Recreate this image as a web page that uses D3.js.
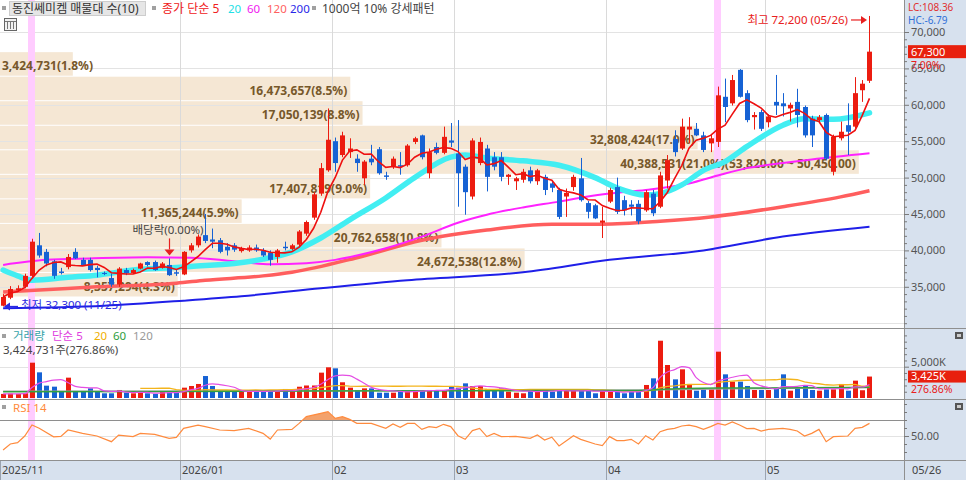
<!DOCTYPE html>
<html><head><meta charset="utf-8">
<script src="https://cdn.jsdelivr.net/npm/d3@7"></script>
<style>
html,body{margin:0;padding:0;background:#fff;}
svg{display:block;}
text{font-family:"Noto Sans","Noto Sans CJK KR",sans-serif;}
</style></head><body>
<svg id="chart" width="966" height="480"></svg>
<script>
// ---------------- DATA ----------------
const opens = [32400,33500,34500,35000,36500,40700,39800,38500,37100,37700,
39800,38700,38700,37600,36900,36200,35300,37300,36900,37500,
38400,38400,37600,38000,37000,36700,40000,40700,42100,41500,
41400,40500,40700,39900,40000,40400,40000,39700,39100,40500,
40200,40800,42300,44500,47800,51000,55000,53100,53500,52600,
49900,52600,53900,50300,51500,51700,51700,54900,55800,50600,
54200,53400,55100,53300,51500,47400,52000,54000,52800,52800,
50100,49500,49700,51000,49500,50100,49200,48300,47400,48700,
49900,46500,46200,43800,46700,48700,46900,46300,46400,45500,
47800,46000,49600,55300,54000,56600,56700,55800,54700,54900,
61100,60200,64800,61600,58300,59000,57600,60400,60200,59500,
60400,59700,58100,57900,58600,50800,55400,57200,57000,62000,
63300];
const highs = [34000,35100,35200,36800,41600,42400,40200,38700,37600,39500,
40300,39000,39000,37900,37100,36800,37700,37600,37500,38300,
38500,38600,38400,38900,37400,39900,41000,42200,45000,43000,
41700,41000,41000,40500,40700,40800,40300,40000,40200,41200,
40900,42800,44100,48000,52000,59500,55500,56300,55400,53200,
52400,54500,54200,50800,52900,53500,54600,55600,55900,54000,
54800,57000,57500,57900,51800,55400,55500,54500,53500,53500,
50500,50100,51200,51500,51200,50400,49600,48600,48500,50400,
52700,46800,46400,46000,48600,50000,47500,46900,46900,48300,
48300,50800,53100,56500,58100,58300,57500,56300,55900,62500,
63600,64100,64900,62000,59000,59300,58700,64100,61600,60300,
62200,59900,58500,58600,58800,55900,57700,60200,63800,63400,
72200];
const lows = [32300,33300,34300,34800,36300,39000,37800,36100,36700,37400,
38800,37900,37100,36300,36600,35000,35000,36600,36800,37400,
37800,37200,37500,36500,36500,36600,39700,40400,41000,40300,
39600,39300,39800,39700,39800,39800,39100,37900,38300,40000,
40000,40600,42000,44200,47500,50800,50800,52800,52700,50800,
49000,51700,50400,49700,51200,50400,51500,54600,52500,49900,
53200,53200,54200,46000,44900,47000,51700,48100,51000,49500,
49000,48300,49300,49200,49000,47600,48000,44300,44600,48200,
46700,44400,44300,41700,46500,45000,44800,44800,43600,45300,
44700,45800,48500,52900,53800,54700,55700,53500,53500,54200,
57600,59900,61000,57600,56600,56400,56900,58600,58400,57700,
56900,55500,54200,57500,52400,50300,55100,53100,56800,60400,
63000];
const closes = [33600,34700,34800,36500,41200,39300,38200,36500,36900,39100,
38900,38000,37300,37300,36800,35300,37500,36900,37300,38200,
38000,37300,38200,36600,36800,39800,40700,41900,41300,41200,
39800,40000,40100,40300,40400,40000,39300,38700,40000,40300,
40700,42600,43900,47700,51300,55200,52000,55800,54000,52000,
52200,52100,50600,50100,52600,51500,54400,55400,52800,53500,
53400,55600,54800,50600,48000,55100,54900,50100,51500,50100,
50400,49900,50800,49500,51000,48300,48600,44600,47900,50100,
46900,45300,44400,44100,48300,45300,45500,46000,44000,48000,
45100,50300,52400,53500,57000,57000,55800,53800,55400,61300,
59700,63400,61100,57900,58600,56700,58400,59900,59800,60000,
58600,55800,55800,58300,52600,55600,56300,56300,61600,62900,
67300];
// volume in thousand shares
const volumesK = [650,700,650,750,5640,4100,1970,1810,1120,3250,
1120,1120,1540,1120,750,750,1280,850,750,850,
750,640,1010,1010,850,1650,1920,2240,3510,1920,
1120,1010,1010,1010,1120,1120,1010,1120,1120,1440,
1120,1800,2000,2000,4050,4900,4740,2510,1650,1280,
1540,1540,850,850,850,1170,1120,1170,1170,1280,
1280,1170,1920,1650,2340,1900,1900,1380,1380,1540,
1010,850,750,1280,1280,1170,1010,1170,1170,1170,
1170,1170,750,1170,1010,1010,750,1010,1170,2080,
3140,9150,5270,2980,4580,2240,1170,1380,1380,7400,
3780,2610,2610,1920,1280,1280,1280,1540,3780,1170,
1540,2080,1280,1170,1380,1380,2240,1170,2770,1240,
3425];

// long moving averages (need history before the window)
const ma20Idx = [0,2,4,9,13,18,23,26,32,36,40,44,48,53,57,62,64,67,72,77,82,85,89,91,94,97,100,103,108,111,115,120];
const ma20Val = [37300,36500,35900,36300,36600,37300,37600,37800,38200,38800,39800,41700,44200,47200,50000,52800,53100,52700,52300,51700,50000,48600,47600,47800,49000,51000,52200,54250,57200,58100,58000,58900];
const ma60Idx = [0,6,12,20,26,32,37,42,46,49,53,58,63,67,72,77,81,84,89,95,99,103,108,112,120];
const ma60Val = [38000,38700,38900,39050,39000,38500,38100,38250,38700,39300,40300,41900,43800,44900,45900,46700,47400,47800,48300,49200,50300,51300,52000,52500,53350];
const ma120Idx = [0,5,13,24,28,36,40,49,58,67,76,83,91,98,108,116,120];
const ma120Val = [34300,34550,35000,35500,35900,36500,37000,39000,41400,42800,43600,43600,44000,44600,46000,47350,48200];
const ma200Idx = [0,14,25,33,44,56,72,84,97,108,120];
const ma200Val = [32050,32400,33100,33700,34800,35900,37000,38700,40000,41900,43250];

const volMa60Idx = [0,25,40,66,88,91,92,94,99,110,120];
const volMa60Val = [1010,1050,1100,1170,1200,1350,1430,1500,1600,1620,1700];
const volMa120Idx = [0,40,66,91,100,120];
const volMa120Val = [1100,1150,1200,1300,1450,1650];

const rsiIdx = [0,1,2,3,4,5,7,8,9,11,13,15,16,18,19,21,23,24,25,27,28,30,32,34,36,37,38,40,41,42,44,45,46,47,48,49,51,53,54,55,56,57,58,59,60,61,62,63,64,65,66,67,68,69,71,72,73,74,75,76,77,79,80,82,83,84,85,86,87,88,89,90,91,92,93,94,95,96,97,98,99,100,101,102,103,104,105,106,108,109,110,111,112,113,114,115,117,118,119,120];
const rsiVal = [32.5,40,41.7,50,63.7,59.6,49,49.5,57.5,53.3,50,42.9,51.2,49.2,53.3,52,47,48.3,59.6,63.7,61.7,57.5,56.7,59.6,53.3,46.2,57.5,58.3,65.8,74.2,78.3,80.4,72.1,74.2,70.8,65.8,65.8,59.6,65,60.8,65.8,65.8,58.3,61.7,60.5,64.6,61.7,50.4,45.8,56.7,59.6,49.2,53.3,49.2,49.5,48.3,47,51.2,45,48.5,37.5,50.4,45.8,40,37.9,49.2,44.2,44.2,45.8,40,50.4,45,55.4,58.3,59.6,62.5,63.7,61.7,58.3,61.7,65.8,63.7,67.5,63.7,59.2,59.6,56.2,58.3,59.6,58.3,56.2,50,53.3,58.3,42.9,49.2,50,59.6,60.8,65.8];

// volume profile (매물대) : 10 price bands
const profileEdges = [33600,36970,40340,43710,47080,50450,53820,57190,60560,63930,67300];
const profileVolumes = [8357294,24672538,20762658,11365244,17407819,40388531,32808424,17050139,16473657,3424731];

// ticks / labels
const priceTicks = [35000,40000,45000,50000,55000,60000,65000,70000];
const monthIdx = [0,25,46,63,84,106];
const monthLabels = ["2025/11","2026/01","02","03","04","05"];
const lastDateLabel = "05/26";
const highlightIdx = [4,99];
const exDivIdx = 23;
const highDate = "05/26", lowDate = "11/25";
const lastVolume = 3424731, lastVolumeRatio = 276.86;
const lcValue = 108.36, hcValue = -6.79;

// ---------------- LAYOUT ----------------
const W = 966, H = 480, PW = 904;
const svg = d3.select("#chart");
const n = closes.length;
const x = d3.scaleBand().domain(d3.range(n)).range([-0.51, 873.1]);
const step = x.step();
const cx = i => Math.round(x(i) + step / 2);
const yP = d3.scaleLinear().domain([30000, 70000]).range([323.2, 32]);
const yV = d3.scaleLinear().domain([0, 5000]).range([398, 366.7]);
const yR = d3.scaleLinear().domain([50, 70]).range([436, 420]);

const RED = "#ec1c10", BLUE = "#1662d4";
const colorOf = i => closes[i] >= opens[i] ? RED : BLUE;
const fmt = d3.format(",");
const FONT = '"Noto Sans","Noto Sans CJK KR",sans-serif';

const movingAvg = (arr, k) => arr.map((_, i) => d3.mean(arr.slice(Math.max(0, i - k + 1), i + 1)));
const ma5 = movingAvg(closes, 5);
const vma5 = movingAvg(volumesK, 5);
const vma20 = volumesK.map((_, i) => i >= 19 ? d3.mean(volumesK.slice(i - 19, i + 1)) : null);

svg.append("rect").attr("width", W).attr("height", H).attr("fill", "#fff");

const defs = svg.append("defs");
defs.append("clipPath").attr("id", "cMain").append("rect").attr("x", 0).attr("y", 0).attr("width", PW).attr("height", 328);
defs.append("clipPath").attr("id", "cVol").append("rect").attr("x", 0).attr("y", 329).attr("width", PW).attr("height", 70);
defs.append("clipPath").attr("id", "cRsi").append("rect").attr("x", 0).attr("y", 400).attr("width", PW).attr("height", 60);
defs.append("clipPath").attr("id", "cAbove").append("rect").attr("x", 0).attr("y", 400).attr("width", PW).attr("height", yR(70) - 400);

// ---------------- BACKGROUND LAYERS ----------------
const profTotal = d3.sum(profileVolumes);
const xProf = d3.scaleLinear().domain([0, d3.max(profileVolumes)]).range([0, PW * 0.95]);
svg.append("g").attr("clip-path", "url(#cMain)").selectAll("rect").data(profileVolumes).join("rect")
  .attr("x", 0).attr("y", (v, k) => yP(profileEdges[k + 1]) + 0.5)
  .attr("width", v => xProf(v))
  .attr("height", (v, k) => yP(profileEdges[k]) - yP(profileEdges[k + 1]) - 1)
  .attr("fill", "#f5e7d4");

// gridlines
const gG = svg.append("g");
gG.selectAll("line.h").data(d3.range(30000, 70001, 5000)).join("line").attr("class", "h")
  .attr("x1", 0).attr("x2", PW).attr("y1", d => Math.round(yP(d)) + 0.5).attr("y2", d => Math.round(yP(d)) + 0.5)
  .attr("stroke", "#e3e3e3");
gG.selectAll("line.v").data(monthIdx.slice(1)).join("line").attr("class", "v")
  .attr("x1", i => Math.round(x(i)) + 0.5).attr("x2", i => Math.round(x(i)) + 0.5)
  .attr("y1", 0).attr("y2", 460).attr("stroke", "#dadada");
gG.append("line").attr("x1", 0).attr("x2", PW).attr("y1", Math.round(yV(5000)) + 0.5).attr("y2", Math.round(yV(5000)) + 0.5).attr("stroke", "#e3e3e3");
gG.append("line").attr("x1", 0).attr("x2", PW).attr("y1", yR(50) + 0.5).attr("y2", yR(50) + 0.5).attr("stroke", "#e3e3e3");

// highlight columns
svg.append("g").selectAll("rect").data(highlightIdx).join("rect")
  .attr("x", i => Math.round(x(i))).attr("y", 0).attr("width", Math.round(step)).attr("height", 460)
  .attr("fill", "#ffccff");

// ---------------- MAIN PANEL ----------------
const gM = svg.append("g").attr("clip-path", "url(#cMain)");
// profile labels
const gPL = gM.append("g").attr("font-size", 12).attr("font-weight", "bold").attr("fill", "#77582a");
const maxK = profileVolumes.indexOf(d3.max(profileVolumes));
profileVolumes.forEach((v, k) => {
  let label = fmt(v) + "(" + (v / profTotal * 100).toFixed(1) + "%)";
  if (k === maxK) label += "(" + d3.format(",.2f")(profileEdges[k + 1]) + " ~ " + d3.format(",.2f")(profileEdges[k]) + ")";
  const t = gPL.append("text").attr("y", (yP(profileEdges[k]) + yP(profileEdges[k + 1])) / 2 + 2).attr("dy", "0.35em")
    .attr("font-family", FONT).text(label);
  const w = t.node().getComputedTextLength();
  const right = xProf(v) - 3;
  t.attr("x", Math.max(2, right - w));
});

// moving averages
const sparseLine = (idx, vals, ys) => d3.line().x((d, k) => x(idx[k]) + step / 2).y(d => ys(d)).curve(d3.curveMonotoneX)(vals);
gM.append("path").attr("d", sparseLine(ma200Idx, ma200Val, yP)).attr("fill", "none").attr("stroke", "#1f1fe8").attr("stroke-width", 2);
gM.append("path").attr("d", sparseLine(ma120Idx, ma120Val, yP)).attr("fill", "none").attr("stroke", "#ff5e5e").attr("stroke-width", 3.5);
gM.append("path").attr("d", sparseLine(ma60Idx, ma60Val, yP)).attr("fill", "none").attr("stroke", "#ff22ff").attr("stroke-width", 2);
gM.append("path").attr("d", sparseLine(ma20Idx, ma20Val, yP)).attr("fill", "none").attr("stroke", "#42eef2").attr("stroke-width", 5.5).attr("stroke-linecap", "round");

// candles
const gC = gM.append("g");
gC.selectAll("line").data(d3.range(n)).join("line")
  .attr("x1", i => cx(i) + 0.5).attr("x2", i => cx(i) + 0.5)
  .attr("y1", i => yP(highs[i])).attr("y2", i => yP(lows[i]))
  .attr("stroke", colorOf).attr("stroke-width", 1);
gC.selectAll("rect").data(d3.range(n)).join("rect")
  .attr("x", i => cx(i) - 2).attr("width", 5)
  .attr("y", i => yP(Math.max(opens[i], closes[i])))
  .attr("height", i => Math.max(1, yP(Math.min(opens[i], closes[i])) - yP(Math.max(opens[i], closes[i]))))
  .attr("fill", colorOf);

gM.append("path").attr("d", d3.line().x((d, i) => x(i) + step / 2).y(d => yP(d))(ma5))
  .attr("fill", "none").attr("stroke", "#ee1010").attr("stroke-width", 1.6);

// annotations
const hiI = highs.indexOf(d3.max(highs)), loI = lows.indexOf(d3.min(lows));
const gA = svg.append("g").attr("font-size", 11.5).attr("font-family", FONT);
const hy = yP(highs[hiI]) + 4;
gA.append("line").attr("x1", cx(hiI) - 18).attr("x2", cx(hiI) - 6).attr("y1", hy).attr("y2", hy).attr("stroke", "#e82020").attr("stroke-width", 1.2);
gA.append("path").attr("d", `M${cx(hiI) - 2},${hy} l-6,-4 l0,8 z`).attr("fill", "#e82020");
gA.append("text").attr("x", cx(hiI) - 21).attr("y", hy).attr("dy", "0.35em").attr("text-anchor", "end").attr("fill", "#e82020")
  .text("최고 " + fmt(highs[hiI]) + " (" + highDate + ")");
const ly = yP(lows[loI]);
gA.append("line").attr("x1", cx(loI) + 6).attr("x2", cx(loI) + 15).attr("y1", ly).attr("y2", ly).attr("stroke", "#2a2ae0").attr("stroke-width", 1.2);
gA.append("path").attr("d", `M${cx(loI) + 1},${ly} l6,-4 l0,8 z`).attr("fill", "#2a2ae0");
gA.append("text").attr("x", cx(loI) + 18).attr("y", ly - 1).attr("dy", "0.35em").attr("fill", "#2a2ae0")
  .text("최저 " + fmt(lows[loI]) + " (" + lowDate + ")");
const ey = yP(highs[exDivIdx]) - 3;
gA.append("line").attr("x1", cx(exDivIdx) + 0.5).attr("x2", cx(exDivIdx) + 0.5).attr("y1", ey - 17).attr("y2", ey - 6).attr("stroke", "#e82020").attr("stroke-width", 1.2);
gA.append("path").attr("d", `M${cx(exDivIdx) + 0.5},${ey} l-5,-6 l10,0 z`).attr("fill", "#e82020");
gA.append("text").attr("x", cx(exDivIdx) - 1).attr("y", ey - 25).attr("dy", "0.35em").attr("text-anchor", "middle").attr("fill", "#444")
  .text("배당락(0.00%)");

// ---------------- VOLUME PANEL ----------------
const gV = svg.append("g").attr("clip-path", "url(#cVol)");
gV.selectAll("rect").data(d3.range(n)).join("rect")
  .attr("x", i => cx(i) - 2).attr("width", 5)
  .attr("y", i => yV(volumesK[i])).attr("height", i => yV(0) - yV(volumesK[i]))
  .attr("fill", colorOf);
gV.append("path").attr("d", sparseLine(volMa120Idx, volMa120Val, yV)).attr("fill", "none").attr("stroke", "#a0a0a0").attr("stroke-width", 1.2);
gV.append("path").attr("d", d3.line().defined(d => d != null).x((d, i) => x(i) + step / 2).y(d => yV(d))(vma20))
  .attr("fill", "none").attr("stroke", "#f3b41c").attr("stroke-width", 1.3);
gV.append("path").attr("d", sparseLine(volMa60Idx, volMa60Val, yV)).attr("fill", "none").attr("stroke", "#34a040").attr("stroke-width", 1.5);
gV.append("path").attr("d", d3.line().x((d, i) => x(i) + step / 2).y(d => yV(d)).curve(d3.curveMonotoneX)(vma5))
  .attr("fill", "none").attr("stroke", "#e44ee4").attr("stroke-width", 1.2);

// ---------------- RSI PANEL ----------------
const gR = svg.append("g").attr("clip-path", "url(#cRsi)");
const rsiPts = rsiIdx.map((i, k) => [i, rsiVal[k]]);
gR.append("path").attr("clip-path", "url(#cAbove)")
  .attr("d", d3.area().x(d => x(d[0]) + step / 2).y0(yR(70)).y1(d => yR(d[1]))(rsiPts))
  .attr("fill", "#f3a26c");
gR.append("line").attr("x1", 0).attr("x2", PW).attr("y1", yR(70) + 0.5).attr("y2", yR(70) + 0.5).attr("stroke", "#8e8e8e");
gR.append("path").attr("d", d3.line().x(d => x(d[0]) + step / 2).y(d => yR(d[1]))(rsiPts))
  .attr("fill", "none").attr("stroke", "#ff8b3e").attr("stroke-width", 1.2);

// ---------------- AXES / FRAME ----------------
svg.append("rect").attr("x", PW).attr("y", 0).attr("width", W - PW).attr("height", H).attr("fill", "#d7e1ee");
svg.append("rect").attr("x", 0).attr("y", 461).attr("width", PW).attr("height", 19).attr("fill", "#d7e1ee");
[328.5, 399.5, 460.5].forEach(yy => svg.append("line").attr("x1", 0).attr("x2", W).attr("y1", yy).attr("y2", yy).attr("stroke", "#8f8f8f"));
svg.append("line").attr("x1", PW + 0.5).attr("x2", PW + 0.5).attr("y1", 0).attr("y2", H).attr("stroke", "#8f8f8f");

function styleAxis(g) {
  g.select(".domain").remove();
  g.attr("font-family", FONT).attr("font-size", 11);
  g.selectAll("line").attr("stroke", "#7a7a7a");
  g.selectAll("text").attr("fill", "#555");
}
const gPA = svg.append("g").attr("transform", `translate(${PW},0)`)
  .call(d3.axisRight(yP).tickValues(priceTicks).tickSize(5).tickPadding(2).tickFormat(fmt));
styleAxis(gPA);
const minorP = d3.range(30000, 71000, 1000).filter(p => p % 5000 !== 0);
const gPm = svg.append("g").attr("transform", `translate(${PW},0)`)
  .call(d3.axisRight(yP).tickValues(minorP.concat([30000])).tickSize(3).tickFormat(""));
styleAxis(gPm);

const gVA = svg.append("g").attr("transform", `translate(${PW},0)`)
  .call(d3.axisRight(yV).tickValues([5000]).tickSize(5).tickPadding(2).tickFormat(d => fmt(d) + "K"));
styleAxis(gVA);
gVA.selectAll("text").attr("dy", "-0.1em");
const gVm = svg.append("g").attr("transform", `translate(${PW},0)`)
  .call(d3.axisRight(yV).tickValues([1000, 2000, 3000, 4000, 6000, 7000, 8000, 9000, 10000]).tickSize(3).tickFormat(""));
styleAxis(gVm);

const gRA = svg.append("g").attr("transform", `translate(${PW},0)`)
  .call(d3.axisRight(yR).tickValues([50]).tickSize(5).tickPadding(2).tickFormat(d3.format(".2f")));
styleAxis(gRA);
const gRm = svg.append("g").attr("transform", `translate(${PW},0)`)
  .call(d3.axisRight(yR).tickValues([30, 40, 60, 70, 80, 90]).tickSize(3).tickFormat(""));
styleAxis(gRm);

// bottom date axis
const gX = svg.append("g").attr("font-family", FONT).attr("font-size", 11).attr("fill", "#444");
monthIdx.forEach((i, k) => {
  const xx = Math.max(0, Math.round(x(i))) + 0.5;
  gX.append("line").attr("x1", xx).attr("x2", xx).attr("y1", 461).attr("y2", 480).attr("stroke", "#9aa3b0");
  gX.append("text").attr("x", xx + 1.5).attr("y", 470).attr("dy", "0.35em").text(monthLabels[k]);
});
gX.append("text").attr("x", PW + 8).attr("y", 470).attr("dy", "0.35em").text(lastDateLabel);

// current price / volume boxes
const last = n - 1;
const gB = svg.append("g").attr("font-family", FONT).attr("font-size", 11);
const py = yP(closes[last]);
gB.append("rect").attr("x", PW + 4).attr("y", py - 6.5).attr("width", W - PW - 4).attr("height", 13).attr("fill", "#e8200e");
gB.append("text").attr("x", PW + 7).attr("y", py).attr("dy", "0.35em").attr("fill", "#fff").text(fmt(closes[last]));
gB.append("text").attr("x", PW + 7).attr("y", py + 13.5).attr("dy", "0.35em").attr("fill", "#e82020").attr("font-size", 10.5)
  .text(((closes[last] / closes[last - 1] - 1) * 100).toFixed(2) + "%");
const vy = yV(volumesK[last]);
gB.append("rect").attr("x", PW + 4).attr("y", vy - 6).attr("width", W - PW - 4).attr("height", 12).attr("fill", "#e8200e");
gB.append("text").attr("x", PW + 7).attr("y", vy).attr("dy", "0.35em").attr("fill", "#fff").text(fmt(Math.round(volumesK[last])) + "K");
gB.append("text").attr("x", PW + 7).attr("y", vy + 12.5).attr("dy", "0.35em").attr("fill", "#e82020").attr("font-size", 10.5).text(lastVolumeRatio.toFixed(2) + "%");
gB.append("text").attr("x", PW + 4).attr("y", 7).attr("dy", "0.35em").attr("fill", "#e03030").attr("font-size", 10).text("LC:" + lcValue.toFixed(2));
gB.append("text").attr("x", PW + 4).attr("y", 20).attr("dy", "0.35em").attr("fill", "#3070d8").attr("font-size", 10).text("HC:" + hcValue.toFixed(2));
// small panel icons
[[955, 332], [955, 403]].forEach(([ix, iy]) => {
  gB.append("rect").attr("x", ix).attr("y", iy).attr("width", 8).attr("height", 7).attr("fill", "#555");
  gB.append("rect").attr("x", ix + 2).attr("y", iy + 2).attr("width", 4).attr("height", 3).attr("fill", "#ccc");
});

// ---------------- LEGENDS ----------------
const gL = svg.append("g").attr("font-family", FONT).attr("font-size", 12);
const bullet = (bx, by) => gL.append("rect").attr("x", bx).attr("y", by).attr("width", 4).attr("height", 4).attr("fill", "#a0a0a0");
bullet(2, 6);
gL.append("rect").attr("x", 9.5).attr("y", 1.5).attr("width", 136).attr("height", 14).attr("fill", "#e6e6e6").attr("stroke", "#cdcdcd");
const legTxt = (tx, ty, s, c, fs) => gL.append("text").attr("x", tx).attr("y", ty).attr("dy", "0.35em").attr("fill", c).attr("font-size", fs || 12).text(s);
legTxt(12, 8.5, "동진쎄미켐 매물대 수(10)", "#333");
bullet(152, 6);
legTxt(162, 8.5, "종가 단순 5", "#f02020");
legTxt(228, 8.5, "20", "#20dfe6", 11.5);
legTxt(247, 8.5, "60", "#f020f0", 11.5);
legTxt(267, 8.5, "120", "#ff6060", 11.5);
legTxt(290, 8.5, "200", "#2828e8", 11.5);
bullet(312, 6);
legTxt(322, 8.5, "1000억 10% 강세패턴", "#444");
// grid icon
gL.append("rect").attr("x", 4.5).attr("y", 18.5).attr("width", 12).attr("height", 12).attr("fill", "#f2f2f2").attr("stroke", "#666");
[7.5, 10.5, 13.5].forEach(gx => gL.append("line").attr("x1", gx).attr("x2", gx).attr("y1", 21).attr("y2", 29).attr("stroke", "#777"));
gL.append("line").attr("x1", 5).attr("x2", 16).attr("y1", 21.5).attr("y2", 21.5).attr("stroke", "#777");

bullet(2, 334);
legTxt(13, 336, "거래량", "#35a3a8", 11.5);
legTxt(52, 336, "단순 5", "#e040e0", 11.5);
legTxt(94, 336, "20", "#f0b000", 11.5);
legTxt(113, 336, "60", "#2e9e3e", 11.5);
legTxt(133, 336, "120", "#999", 11.5);
legTxt(3, 350, fmt(lastVolume) + "주(" + lastVolumeRatio.toFixed(2) + "%)", "#444", 11.5);

bullet(2, 405);
legTxt(13, 407.5, "RSI 14", "#ff8a3c", 11.5);
</script></body></html>
